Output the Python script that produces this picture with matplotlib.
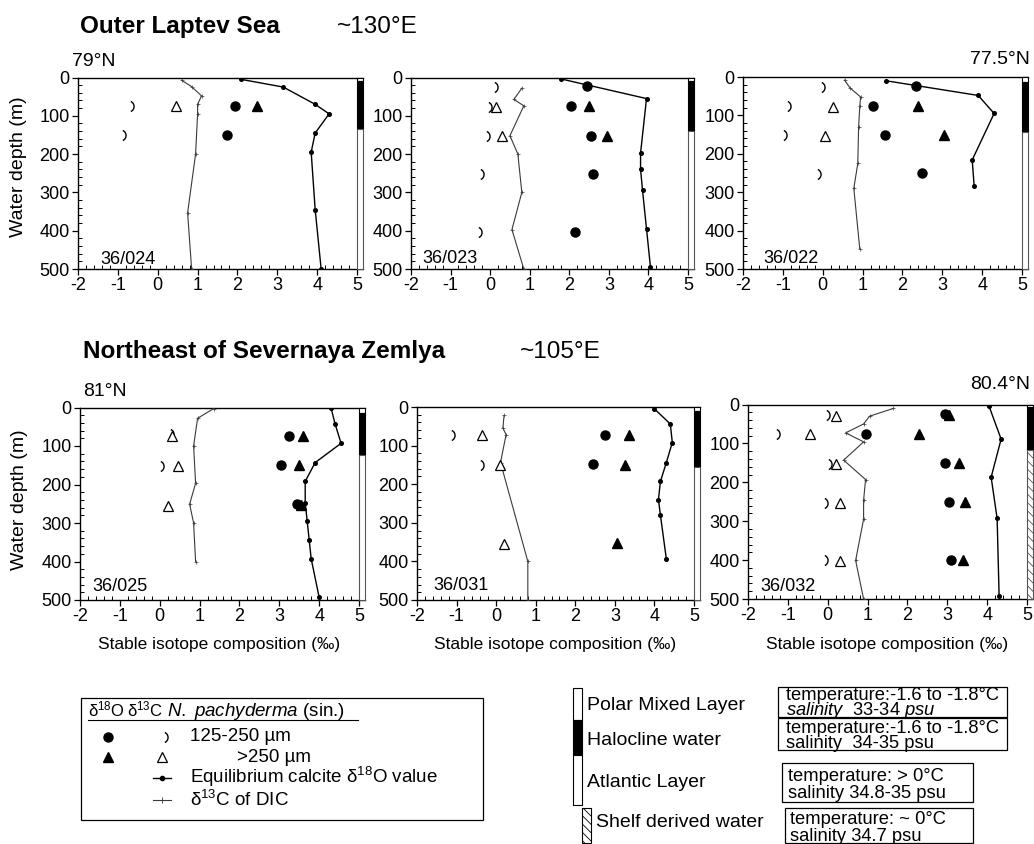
import matplotlib
matplotlib.use("Agg")
import matplotlib.pyplot as plt
from matplotlib.patches import Rectangle
from matplotlib.path import Path
from matplotlib.ticker import MultipleLocator, FixedLocator
from matplotlib.transforms import blended_transform_factory

plt.rcParams.update({
    "font.family": ["Liberation Sans", "DejaVu Sans"],
    "mathtext.fontset": "custom",
    "mathtext.rm": "Liberation Sans",
    "mathtext.it": "Liberation Sans:italic",
    "axes.unicode_minus": False,
    "hatch.linewidth": 0.6,
})

# ---------------------------------------------------------------- data
x_ticks = [-2, -1, 0, 1, 2, 3, 4, 5]
x_tick_labels = ["-2", "-1", "0", "1", "2", "3", "4", "5"]
y_ticks = [0, 100, 200, 300, 400, 500]
y_tick_labels = ["0", "100", "200", "300", "400", "500"]

stations = ["36/024", "36/023", "36/022", "36/025", "36/031", "36/032"]

# station 36/024
s024_eq_val = [2.1, 3.15, 3.95, 4.3, 3.95, 3.85, 3.95, 4.1]
s024_eq_depth = [5, 25, 70, 95, 145, 195, 345, 500]
s024_dic_val = [0.6, 0.85, 1.1, 1.0, 1.0, 0.95, 0.75, 0.85]
s024_dic_depth = [7, 24, 48, 70, 96, 200, 353, 500]
s024_o18_small_val = [1.95, 1.75]
s024_o18_small_depth = [75, 150]
s024_o18_large_val = [2.5]
s024_o18_large_depth = [75]
s024_c13_small_val = [-0.75, -0.95]
s024_c13_small_depth = [75, 150]
s024_c13_large_val = [0.45]
s024_c13_large_depth = [75]
s024_layers = [10, 135, "atlantic"]

# station 36/023
s023_eq_val = [1.8, 3.95, 3.8, 3.8, 3.85, 3.95, 4.05]
s023_eq_depth = [4, 55, 197, 240, 295, 395, 495]
s023_dic_val = [0.8, 0.6, 0.85, 0.5, 0.7, 0.8, 0.55, 0.85]
s023_dic_depth = [28, 57, 74, 152, 200, 300, 397, 500]
s023_o18_small_val = [2.45, 2.05, 2.55, 2.6, 2.15]
s023_o18_small_depth = [23, 74, 152, 252, 403]
s023_o18_large_val = [2.5, 2.95]
s023_o18_large_depth = [74, 152]
s023_c13_small_val = [0.05, -0.1, -0.15, -0.3, -0.35]
s023_c13_small_depth = [25, 76, 152, 252, 403]
s023_c13_large_val = [0.15, 0.3]
s023_c13_large_depth = [76, 152]
s023_layers = [10, 140, "atlantic"]

# station 36/022
s022_eq_val = [1.6, 3.9, 4.3, 3.75, 3.8]
s022_eq_depth = [10, 48, 95, 216, 285]
s022_dic_val = [0.55, 0.68, 0.95, 0.93, 0.9, 0.88, 0.78, 0.93]
s022_dic_depth = [8, 28, 52, 76, 130, 225, 290, 448]
s022_o18_small_val = [2.35, 1.25, 1.55, 2.5]
s022_o18_small_depth = [24, 75, 151, 251]
s022_o18_large_val = [2.4, 3.05]
s022_o18_large_depth = [75, 151]
s022_c13_small_val = [-0.1, -0.95, -1.05, -0.2]
s022_c13_small_depth = [26, 76, 151, 253]
s022_c13_large_val = [0.25, 0.05]
s022_c13_large_depth = [78, 153]
s022_layers = [12, 142, "atlantic"]

# station 36/025
s025_eq_val = [4.3, 4.4, 4.55, 3.9, 3.65, 3.65, 3.7, 3.75, 3.8, 4.0]
s025_eq_depth = [2, 43, 93, 143, 192, 247, 296, 344, 393, 493]
s025_dic_val = [1.35, 0.95, 0.85, 0.9, 0.75, 0.85, 0.9]
s025_dic_depth = [3, 28, 100, 197, 251, 300, 400]
s025_o18_small_val = [3.25, 3.05, 3.45]
s025_o18_small_depth = [73, 150, 250]
s025_o18_large_val = [3.6, 3.5, 3.55]
s025_o18_large_depth = [75, 150, 253]
s025_c13_small_val = [0.2, -0.05]
s025_c13_small_depth = [70, 151]
s025_c13_large_val = [0.3, 0.45, 0.2]
s025_c13_large_depth = [75, 153, 255]
s025_layers = [15, 123, "atlantic"]

# station 36/031
s031_eq_val = [4.0, 4.4, 4.45, 4.3, 4.15, 4.1, 4.15, 4.3]
s031_eq_depth = [5, 44, 92, 144, 193, 240, 280, 394]
s031_dic_val = [0.2, 0.17, 0.25, 0.11, 0.8, 0.8]
s031_dic_depth = [22, 54, 72, 144, 400, 500]
s031_o18_small_val = [2.75, 2.45]
s031_o18_small_depth = [72, 148]
s031_o18_large_val = [3.35, 3.25, 3.05]
s031_o18_large_depth = [73, 150, 353]
s031_c13_small_val = [-1.2, -0.45]
s031_c13_small_depth = [73, 150]
s031_c13_large_val = [-0.35, 0.1, 0.2]
s031_c13_large_depth = [73, 150, 355]
s031_layers = [10, 155, "atlantic"]

# station 36/032
s032_eq_val = [4.05, 4.35, 4.1, 4.25, 4.3]
s032_eq_depth = [5, 89, 187, 293, 492]
s032_dic_val = [1.65, 1.05, 0.9, 0.45, 0.9, 0.4, 0.95, 0.9, 0.9, 0.7, 0.9]
s032_dic_depth = [10, 30, 50, 73, 96, 143, 193, 246, 295, 401, 500]
s032_o18_small_val = [2.95, 0.95, 2.95, 3.05, 3.1]
s032_o18_small_depth = [25, 76, 150, 250, 400]
s032_o18_large_val = [3.05, 2.3, 3.3, 3.45, 3.4]
s032_o18_large_depth = [27, 77, 151, 251, 401]
s032_c13_small_val = [-0.1, -1.35, -0.05, -0.15, -0.15]
s032_c13_small_depth = [27, 77, 153, 254, 401]
s032_c13_large_val = [0.2, -0.45, 0.2, 0.3, 0.3]
s032_c13_large_depth = [30, 77, 153, 254, 403]
s032_layers = [6, 117, "shelf"]

station_data = [
    (s024_eq_val, s024_eq_depth, s024_dic_val, s024_dic_depth,
     s024_o18_small_val, s024_o18_small_depth, s024_o18_large_val, s024_o18_large_depth,
     s024_c13_small_val, s024_c13_small_depth, s024_c13_large_val, s024_c13_large_depth,
     s024_layers),
    (s023_eq_val, s023_eq_depth, s023_dic_val, s023_dic_depth,
     s023_o18_small_val, s023_o18_small_depth, s023_o18_large_val, s023_o18_large_depth,
     s023_c13_small_val, s023_c13_small_depth, s023_c13_large_val, s023_c13_large_depth,
     s023_layers),
    (s022_eq_val, s022_eq_depth, s022_dic_val, s022_dic_depth,
     s022_o18_small_val, s022_o18_small_depth, s022_o18_large_val, s022_o18_large_depth,
     s022_c13_small_val, s022_c13_small_depth, s022_c13_large_val, s022_c13_large_depth,
     s022_layers),
    (s025_eq_val, s025_eq_depth, s025_dic_val, s025_dic_depth,
     s025_o18_small_val, s025_o18_small_depth, s025_o18_large_val, s025_o18_large_depth,
     s025_c13_small_val, s025_c13_small_depth, s025_c13_large_val, s025_c13_large_depth,
     s025_layers),
    (s031_eq_val, s031_eq_depth, s031_dic_val, s031_dic_depth,
     s031_o18_small_val, s031_o18_small_depth, s031_o18_large_val, s031_o18_large_depth,
     s031_c13_small_val, s031_c13_small_depth, s031_c13_large_val, s031_c13_large_depth,
     s031_layers),
    (s032_eq_val, s032_eq_depth, s032_dic_val, s032_dic_depth,
     s032_o18_small_val, s032_o18_small_depth, s032_o18_large_val, s032_o18_large_depth,
     s032_c13_small_val, s032_c13_small_depth, s032_c13_large_val, s032_c13_large_depth,
     s032_layers),
]

# ---------------------------------------------------------------- layout (pixels)
W, H = 1034, 844
fig = plt.figure(figsize=(W / 100, H / 100), dpi=100)

# full-figure overlay in pixel units for titles and legends
ov = fig.add_axes([0, 0, 1, 1])
ov.set_xlim(0, W)
ov.set_ylim(H, 0)
ov.axis("off")

# left, top, right, bottom of each panel
panel_px = [
    (78, 77.5, 363, 269),
    (411, 77.5, 694, 269),
    (743, 77, 1028, 269),
    (80, 407.5, 365, 600),
    (417, 407, 700, 600),
    (748, 404.5, 1033, 599),
]
station_label_px = [(100, 264), (422, 263), (763, 263), (92, 591), (433, 590), (760, 591)]

XMAX = 5.15
BAR_W = XMAX - 5.0
crescent = Path.arc(-65, 65)
MS = 6.5

def frame(left, top, right, bottom):
    return [left / W, 1 - bottom / H, (right - left) / W, (bottom - top) / H]

for i, name in enumerate(stations):
    (eq_v, eq_d, dic_v, dic_d, os_v, os_d, ol_v, ol_d,
     cs_v, cs_d, cl_v, cl_d, layers) = station_data[i]
    ax = fig.add_axes(frame(*panel_px[i]))
    ax.patch.set_visible(False)
    ax.set_xlim(-2, XMAX)
    ax.set_ylim(500, 0)

    ax.plot(dic_v, dic_d, color="#3a3a3a", lw=0.8, marker="+", ms=2.2, mew=0.5, zorder=3)
    ax.plot(eq_v, eq_d, color="black", lw=1.0, marker="o", ms=2.6, zorder=4)
    ax.plot(os_v, os_d, ls="none", marker="o", ms=MS, color="black", zorder=5)
    ax.plot(ol_v, ol_d, ls="none", marker="^", ms=MS, color="black", zorder=5)
    ax.plot(cs_v, cs_d, ls="none", marker=crescent, ms=8, mfc="none",
            mec="black", mew=1.0, zorder=5)
    ax.plot(cl_v, cl_d, ls="none", marker="^", ms=MS, mfc="white",
            mec="black", mew=0.9, zorder=5)

    # water-mass bar at the right edge
    pml, halo, lower = layers
    ax.add_patch(Rectangle((5.0, 0), BAR_W, pml, facecolor="white",
                           edgecolor="black", lw=0.8, clip_on=False, zorder=6))
    ax.add_patch(Rectangle((5.0, pml), BAR_W, halo - pml, facecolor="black",
                           edgecolor="black", lw=0.8, clip_on=False, zorder=6))
    if lower == "shelf":
        ax.add_patch(Rectangle((5.0, halo), BAR_W, 500 - halo, facecolor="white",
                               edgecolor="#555555", hatch="\\\\\\\\", lw=0.8,
                               clip_on=False, zorder=6))
    else:
        ax.add_patch(Rectangle((5.0, halo), BAR_W, 500 - halo, facecolor="white",
                               edgecolor="#555555", lw=0.8, clip_on=False, zorder=6))

    ax.spines["right"].set_visible(False)
    for s in ("left", "bottom", "top"):
        ax.spines[s].set_linewidth(1.0)
    ax.xaxis.set_major_locator(FixedLocator(x_ticks))
    ax.set_xticklabels(x_tick_labels)
    ax.yaxis.set_major_locator(FixedLocator(y_ticks))
    ax.set_yticklabels(y_tick_labels)
    ax.xaxis.set_minor_locator(MultipleLocator(0.2))
    ax.yaxis.set_minor_locator(MultipleLocator(20))
    ax.tick_params(which="major", direction="out", length=4, width=0.9,
                   labelsize=13, pad=2, top=False, right=False)
    ax.tick_params(which="minor", direction="in", length=3, width=0.7,
                   top=False, right=False)

    sx, sy = station_label_px[i]
    ov.text(sx, sy, name, fontsize=13, va="baseline", ha="left")

    if i >= 3:
        tr = blended_transform_factory(ax.transData, ov.transData)
        ax.text(1.5, 649, "Stable isotope composition (‰)", transform=tr,
                ha="center", va="baseline", fontsize=12.5, clip_on=False)

# ---------------------------------------------------------------- titles
ov.text(80, 33, "Outer Laptev Sea", fontsize=17.5, weight="bold", va="baseline")
ov.text(337, 33, "~130°E", fontsize=17.5, va="baseline")
ov.text(83, 358, "Northeast of Severnaya Zemlya", fontsize=17.5, weight="bold", va="baseline")
ov.text(520, 358, "~105°E", fontsize=17.5, va="baseline")
ov.text(72, 66, "79°N", fontsize=14, va="baseline")
ov.text(1030, 64, "77.5°N", fontsize=14, va="baseline", ha="right")
ov.text(83, 396, "81°N", fontsize=14, va="baseline")
ov.text(1030, 389, "80.4°N", fontsize=14, va="baseline", ha="right")
ov.text(19, 167, "Water depth (m)", rotation=90, fontsize=14, va="center", ha="center")
ov.text(20, 500, "Water depth (m)", rotation=90, fontsize=14, va="center", ha="center")

# ---------------------------------------------------------------- symbol legend
ov.add_patch(Rectangle((81, 698), 402, 122, facecolor="none", edgecolor="black", lw=0.9))
ov.text(88, 716, "δ$^{18}$O", fontsize=12, va="baseline")
ov.text(127, 716, "δ$^{13}$C", fontsize=12, va="baseline")
ov.text(167, 716, r"$\mathit{N.\ pachyderma}$ (sin.)", fontsize=13.5, va="baseline")
ov.plot([88, 358], [720, 720], color="black", lw=0.8)
ov.plot([108], [737], marker="o", ms=MS, color="black")
ov.plot([162], [737], marker=crescent, ms=8, mfc="none", mec="black", mew=1.0)
ov.text(190, 741, "125-250 µm", fontsize=13.5, va="baseline")
ov.plot([108], [757], marker="^", ms=MS, color="black")
ov.plot([162], [757], marker="^", ms=MS, mfc="white", mec="black", mew=0.9)
ov.text(237, 762, ">250 µm", fontsize=13.5, va="baseline")
ov.plot([153, 171], [778, 778], color="black", lw=1.0)
ov.plot([162], [778], marker="o", ms=3, color="black")
ov.text(190, 783, "Equilibrium calcite δ$^{18}$O value", fontsize=13.5, va="baseline")
ov.plot([153, 171], [800, 800], color="#3a3a3a", lw=0.8)
ov.plot([162], [800], marker="+", ms=4, mew=0.6, color="#3a3a3a")
ov.text(190, 806, "δ$^{13}$C of DIC", fontsize=13.5, va="baseline")

# ---------------------------------------------------------------- water-mass legend
ov.add_patch(Rectangle((573, 688), 9, 32, facecolor="white", edgecolor="black", lw=0.8))
ov.add_patch(Rectangle((573, 720), 9, 35, facecolor="black", edgecolor="black", lw=0.8))
ov.add_patch(Rectangle((573, 755), 9, 50, facecolor="white", edgecolor="black", lw=0.8))
ov.add_patch(Rectangle((582, 808), 9, 35, facecolor="white", edgecolor="black",
                       hatch="\\\\\\\\", lw=0.8))
ov.text(587, 710, "Polar Mixed Layer", fontsize=14, va="baseline")
ov.text(587, 745, "Halocline water", fontsize=14, va="baseline")
ov.text(587, 787, "Atlantic Layer", fontsize=14, va="baseline")
ov.text(596, 827, "Shelf derived water", fontsize=14, va="baseline")

# property boxes; the y of each two-line text is the baseline of its last line
box_fs = 13.2
ov.add_patch(Rectangle((778, 687), 229, 30, facecolor="none", edgecolor="black", lw=0.9))
ov.text(786, 715,
        "temperature:-1.6 to -1.8°C\n"
        r"$\mathit{salinity}$  $\mathit{33}$-$\mathit{34}$ $\mathit{psu}$",
        fontsize=box_fs, va="baseline", linespacing=0.72)
ov.add_patch(Rectangle((778, 718), 229, 32, facecolor="none", edgecolor="black", lw=0.9))
ov.text(786, 748, "temperature:-1.6 to -1.8°C\nsalinity  34-35 psu",
        fontsize=box_fs, va="baseline", linespacing=0.82)
ov.add_patch(Rectangle((782, 763), 191, 39, facecolor="none", edgecolor="black", lw=0.9))
ov.text(788, 798, "temperature: > 0°C\nsalinity 34.8-35 psu",
        fontsize=box_fs, va="baseline", linespacing=0.99)
ov.add_patch(Rectangle((785, 808), 188, 35, facecolor="none", edgecolor="black", lw=0.9))
ov.text(790, 841, "temperature: ~ 0°C\nsalinity 34.7 psu",
        fontsize=box_fs, va="baseline", linespacing=1.0)

fig.savefig("out.png", dpi=100, facecolor="white")
